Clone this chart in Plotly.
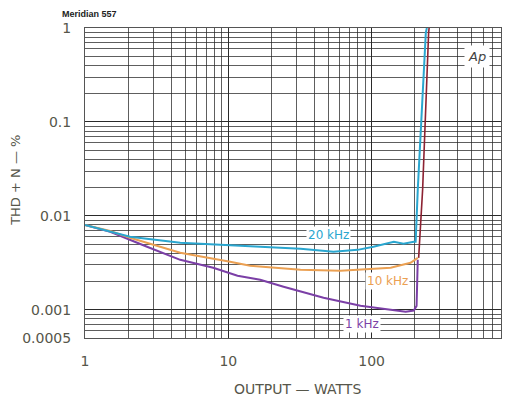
import plotly.graph_objects as go
import numpy as np

# ---- data ----
w_1k = [1, 1.50, 2.71, 4.62, 7.85, 11.6, 16.7, 24.3, 46.2, 83.7, 173, 197, 206, 210]
thd_1k = [0.0080, 0.00676, 0.00468, 0.00340, 0.00280, 0.00230, 0.00209, 0.00176, 0.00134, 0.00110, 0.00095, 0.00098, 0.00110, 0.0034]

w_10k = [1, 1.50, 2.06, 4.62, 10.3, 14.2, 31.9, 60.7, 136, 187, 210]
thd_10k = [0.0080, 0.0069, 0.00583, 0.00404, 0.00324, 0.00294, 0.00267, 0.0026, 0.0028, 0.00316, 0.00357]

w_20k = [1, 2.06, 4.62, 10.3, 16.7, 31.9, 54.2, 79.8, 103, 143, 167, 197, 203, 210, 239, 243]
thd_20k = [0.0080, 0.00598, 0.00516, 0.0048, 0.00468, 0.00446, 0.00414, 0.00434, 0.00468, 0.00529, 0.00504, 0.00529, 0.00529, 0.0189, 0.885, 1.0]

w_clip = [213, 227, 250, 252]
thd_clip = [0.00357, 0.0189, 0.885, 1.0]

x_tickvals = [1, 10, 100, 800]
x_ticktext = ["1", "10", "100", "800"]
y_tickvals = [1, 0.1, 0.01, 0.001, 0.0005]
y_ticktext = ["1", "0.1", "0.01", "0.001", "0.0005"]

x_minor = [m * d for d in (1, 10, 100) for m in range(2, 10) if m * d < 800]
y_minor = [m * d for d in (0.0001, 0.001, 0.01, 0.1) for m in range(2, 10) if m * d > 0.0005]

C_PURPLE = "#7b3fa6"
C_ORANGE = "#eba052"
C_CYAN = "#2aa6cf"
C_RED = "#8c2232"
TXT = "#56564a"
FONT = "DejaVu Sans"

fig = go.Figure()
fig.add_trace(go.Scatter(x=w_1k, y=thd_1k, mode="lines", line=dict(color=C_PURPLE, width=2), name="1 kHz"))
fig.add_trace(go.Scatter(x=w_10k, y=thd_10k, mode="lines", line=dict(color=C_ORANGE, width=2), name="10 kHz"))
fig.add_trace(go.Scatter(x=w_20k, y=thd_20k, mode="lines", line=dict(color=C_CYAN, width=2), name="20 kHz"))
fig.add_trace(go.Scatter(x=w_clip, y=thd_clip, mode="lines", line=dict(color=C_RED, width=1.6), name="clip"))

grid_c = "rgba(40,40,40,0.75)"
fig.update_xaxes(
    type="log", range=[0, np.log10(800)],
    tickvals=x_tickvals, ticktext=x_ticktext,
    showgrid=True, gridcolor="#2a2a2a", gridwidth=1.4,
    minor=dict(tickvals=x_minor, showgrid=True, gridcolor=grid_c, gridwidth=1),
    showline=True, linecolor="#555", linewidth=1, mirror=True,
    zeroline=False, ticks="", ticklabelstandoff=10,
    tickfont=dict(family=FONT, size=14, color=TXT),
)
fig.update_yaxes(
    type="log", range=[np.log10(0.0005), 0],
    tickvals=y_tickvals, ticktext=y_ticktext,
    showgrid=True, gridcolor="#2a2a2a", gridwidth=1.4,
    minor=dict(tickvals=y_minor, showgrid=True, gridcolor=grid_c, gridwidth=1),
    showline=True, linecolor="#555", linewidth=1, mirror=True,
    zeroline=False, ticks="", ticklabelstandoff=10,
    tickfont=dict(family=FONT, size=14, color=TXT),
)

ann = [
    dict(text="20 kHz", x=np.log10(50), y=np.log10(0.0063), font=dict(color=C_CYAN, size=12)),
    dict(text="10 kHz", x=np.log10(129), y=np.log10(0.0020), font=dict(color=C_ORANGE, size=12)),
    dict(text="1 kHz", x=np.log10(86), y=np.log10(0.00071), font=dict(color=C_PURPLE, size=12)),
]
for a in ann:
    fig.add_annotation(xref="x", yref="y", showarrow=False, bgcolor="white",
                       borderpad=1, **{k: v for k, v in a.items() if k != "font"},
                       font=dict(family=FONT, **a["font"]))

fig.add_annotation(text="<i>Ap</i>", xref="paper", yref="paper", x=0.974, y=0.945,
                   showarrow=False, bgcolor="white", borderpad=3,
                   font=dict(family=FONT, size=13, color="#444"))
fig.add_annotation(text="<b>Meridian 557</b>", xref="paper", yref="paper", x=-0.06, y=1.045,
                   xanchor="left", yanchor="middle", showarrow=False,
                   font=dict(family="Liberation Sans", size=9, color="#222"))
fig.add_annotation(text="THD + N — %", xref="paper", yref="paper", x=-0.166, y=0.51,
                   xanchor="center", yanchor="middle",
                   textangle=-90, showarrow=False,
                   font=dict(family=FONT, size=13, color=TXT))
fig.add_annotation(text="OUTPUT — WATTS", xref="paper", yref="paper", x=0.512, y=-0.166,
                   xanchor="center", yanchor="middle", showarrow=False,
                   font=dict(family=FONT, size=14, color=TXT))

# page has an 8px body margin: figure sized/offset so the plot lands where the reference has it
fig.update_layout(
    width=502, height=391, autosize=False,
    margin=dict(l=77, r=9, t=20, b=61),
    paper_bgcolor="white", plot_bgcolor="white",
    showlegend=False,
)

fig.write_html("out.html")
